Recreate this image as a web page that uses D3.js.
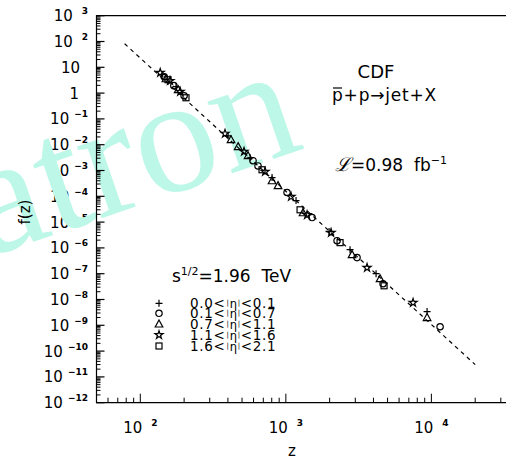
<!DOCTYPE html>
<html><head><meta charset="utf-8">
<script src="https://cdn.jsdelivr.net/npm/d3@7/dist/d3.min.js"></script>
<style>body{margin:0;background:#fff;} svg{display:block;}</style>
</head><body><svg id="c" width="506" height="461" font-family="DejaVu Sans, sans-serif"></svg>
<script>
// ---- data (z, f(z)) ----
const seriesLo = ["0.0","0.1","0.7","1.1","1.6"];
const seriesHi = ["0.1","0.7","1.1","1.6","2.1"];
const seriesSymbols = ["plus","circle","triangle","star","square"];
const plusPts = [[141,5.2],[176,1.77],[401,0.022],[568,3.1e-3],[804,5.3e-4],[1175,6.8e-5],[1982,4.3e-6],[2762,8.5e-7],[4169,1.0e-7],[9341,3.4e-9]];
const circlePts = [[146,4.3],[170,1.94],[200,0.79],[595,2.4e-3],[644,1.5e-3],[1019,1.4e-4],[1514,1.5e-5],[2249,1.9e-6],[3085,4.2e-7],[4656,4.1e-8],[11477,8.8e-10]];
const trianglePts = [[150,3.6],[182,1.36],[420,0.0156],[470,8.4e-3],[550,3.75e-3],[804,4.0e-4],[884,2.6e-4],[1313,2.3e-5],[2851,5.5e-7],[4441,6.4e-8],[9341,2.0e-9]];
const starPts = [[137,6.2],[160,3.0],[188,1.13],[382,0.027],[516,5.4e-3],[720,9.0e-4],[1086,9.6e-5],[1399,1.9e-5],[2045,3.9e-6],[3615,1.7e-7],[7485,7.5e-9]];
const squarePts = [[155,3.3],[206,0.66],[686,1.07e-3],[1252,3.0e-5],[2358,1.6e-6],[4731,3.4e-8]];
const fitLine = [[78,82],[20000,3e-11]];
const xTickExps = [2,3,4];
const yTickExps = d3.range(-12,4);

const svg = d3.select("#c");
const x = d3.scaleLog().domain([50,40000]).range([96.5,519]);
const y = d3.scaleLog().domain([1e-12,1e3]).range([402.7,15.7]);
const X0 = 96.5, Y0 = 402.7, YT = 15.7, XR = 507;

// ---- tick labels (below watermark) ----
const ylab = svg.append("g");
yTickExps.forEach(e=>{
  const py = y(Math.pow(10,e));
  if (e===0) { ylab.append("text").attr("x",79).attr("y",py+5.5).attr("text-anchor","end").attr("font-size",15).text("1"); }
  else if (e===1) { ylab.append("text").attr("x",80).attr("y",py+5.5).attr("text-anchor","end").attr("font-size",15).text("10"); }
  else {
    const t = ylab.append("text").attr("x",88).attr("y",py+5.5).attr("text-anchor","end").attr("font-size",15);
    t.append("tspan").text("10");
    t.append("tspan").attr("dx",e<0?5:9).attr("dy",-7).attr("font-size",9).attr("font-weight","bold").text(e<0?"\u2212"+(-e):String(e));
  }
});
xTickExps.forEach(e=>{
  const px = x(Math.pow(10,e));
  const t = svg.append("text").attr("x",px+0).attr("y",433).attr("text-anchor","middle").attr("font-size",15);
  t.append("tspan").text("10");
  t.append("tspan").attr("dx",9).attr("dy",-7).attr("font-size",9).attr("font-weight","bold").text(String(e));
});
svg.append("text").attr("x",292).attr("y",456).attr("text-anchor","middle").attr("font-size",15).text("z");

// ---- watermark ----
svg.append("text").attr("transform","translate(-14,258) rotate(-19)")
  .attr("font-family","Liberation Serif, serif").attr("font-size",165)
  .attr("fill","#bdf7e8").text("atron");

svg.append("text").attr("transform","translate(30,212) rotate(-90)").attr("text-anchor","middle").attr("font-size",15).text("f(z)");

// ---- frame and ticks ----
const ax = svg.append("g").attr("stroke","#000").attr("stroke-width",1.2).attr("fill","none");
ax.append("path").attr("d",`M${XR},${YT}H${X0}V${Y0}H${XR}`);
yTickExps.forEach(e=>{
  const base = Math.pow(10,e);
  ax.append("line").attr("x1",X0).attr("x2",X0+8).attr("y1",y(base)).attr("y2",y(base));
  if (e<3) for (let m=2;m<=9;m++){ const py=y(base*m);
    ax.append("line").attr("x1",X0).attr("x2",X0+4).attr("y1",py).attr("y2",py).attr("stroke-width",1); }
});
[1,2,3,4].forEach(e=>{
  for (let m=1;m<=9;m++){ const v=m*Math.pow(10,e); if (v<50||v>35000) continue;
    const px=x(v); const L = m===1?9:5;
    ax.append("line").attr("x1",px).attr("x2",px).attr("y1",Y0).attr("y2",Y0-L).attr("stroke-width",1); }
});

// ---- fit line ----
svg.append("path").datum(fitLine)
  .attr("d",d3.line().x(d=>x(d[0])).y(d=>y(d[1])))
  .attr("fill","none").attr("stroke","#000").attr("stroke-width",1.2).attr("stroke-dasharray","4,4");

// ---- markers ----
function sym(g,type,cx,cy){
  const s = g.append("g").attr("transform",`translate(${cx},${cy})`).attr("fill","none").attr("stroke","#000").attr("stroke-width",1.2);
  if (type==="plus") s.append("path").attr("d","M-3.5,0H3.5M0,-3.5V3.5");
  else if (type==="circle") s.append("circle").attr("r",3.2);
  else if (type==="triangle") s.append("path").attr("d","M0,-4L3.8,3L-3.8,3Z");
  else if (type==="square") s.append("rect").attr("x",-3).attr("y",-3).attr("width",6).attr("height",6);
  else if (type==="star") s.append("path").attr("d",d3.symbol(d3.symbolStar,20)());
}
const dataSets = [plusPts,circlePts,trianglePts,starPts,squarePts];
const mk = svg.append("g");
dataSets.forEach((pts,i)=>pts.forEach(p=>sym(mk,seriesSymbols[i],x(p[0]),y(p[1]))));

// ---- annotations ----
svg.append("text").attr("x",376).attr("y",78).attr("text-anchor","middle").attr("font-size",18).text("CDF");
const r = svg.append("text").attr("x",332).attr("y",101).attr("font-size",17).attr("letter-spacing",0.8);
r.append("tspan").text("p");
r.append("tspan").text("+p\u2192jet+X");
svg.append("line").attr("x1",333).attr("x2",342).attr("y1",88).attr("y2",88).attr("stroke","#000").attr("stroke-width",1.2);
const L = svg.append("text").attr("x",335).attr("y",171).attr("font-size",17);
L.append("tspan").attr("font-style","italic").attr("font-family","Liberation Serif, serif").attr("font-size",19).text("\u2112");
L.append("tspan").text("=0.98\u00a0\u00a0fb");
L.append("tspan").attr("dy",-7).attr("font-size",11).text("\u22121");
const S = svg.append("text").attr("x",172).attr("y",282).attr("font-size",17);
S.append("tspan").text("s");
S.append("tspan").attr("dy",-7).attr("font-size",11).text("1/2");
S.append("tspan").attr("dy",7).text("=1.96\u00a0\u00a0TeV");
const rows = [303.3,313.3,324,335,346];
seriesLo.forEach((lo,i)=>{
  sym(svg,seriesSymbols[i],159,rows[i]);
  const t = svg.append("text").attr("x",190).attr("y",rows[i]+4.5).attr("font-size",13.5).attr("letter-spacing",0.7);
  t.append("tspan").text(lo+"<");
  t.append("tspan").attr("font-size",7).attr("dy",-2.5).attr("dx",1).text("|");
  t.append("tspan").attr("font-size",11.5).attr("dy",2.5).text("\u03b7");
  t.append("tspan").attr("font-size",7).attr("dy",-2.5).text("|");
  t.append("tspan").attr("dy",2.5).text("<"+seriesHi[i]);
});
</script></body></html>
